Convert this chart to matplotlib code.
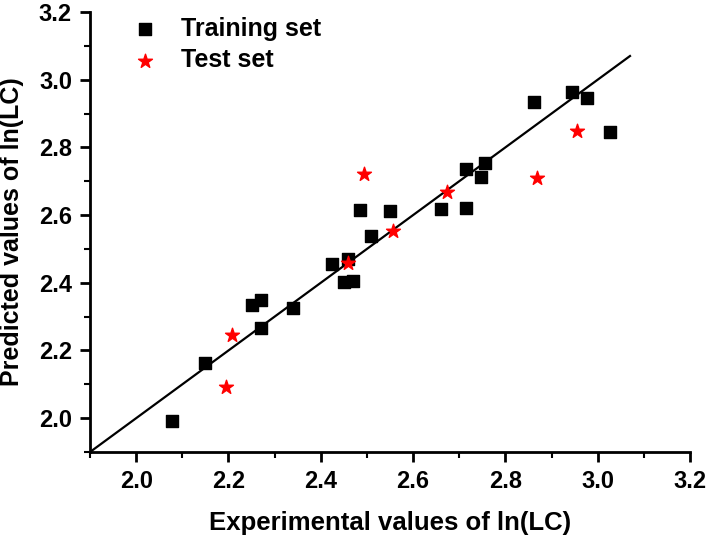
import numpy as np
import matplotlib.pyplot as plt
from matplotlib.ticker import MultipleLocator

# Training set (experimental, predicted)
train_exp = [2.078, 2.150, 2.250, 2.271, 2.271, 2.340, 2.424, 2.450, 2.459, 2.469,
             2.485, 2.509, 2.549, 2.660, 2.715, 2.715, 2.748, 2.755, 2.862, 2.945,
             2.976, 3.026]
train_pred = [1.992, 2.163, 2.335, 2.348, 2.265, 2.324, 2.455, 2.401, 2.469, 2.406,
              2.614, 2.537, 2.611, 2.617, 2.620, 2.735, 2.712, 2.754, 2.934, 2.963,
              2.946, 2.845]

# Test set
test_exp = [2.195, 2.207, 2.459, 2.493, 2.556, 2.673, 2.868, 2.956]
test_pred = [2.091, 2.246, 2.457, 2.722, 2.553, 2.667, 2.711, 2.847]

# y = x reference line
line_x = [1.9, 3.07]

plt.rcParams['font.family'] = ['Liberation Sans', 'DejaVu Sans']
plt.rcParams['font.weight'] = 'bold'
plt.rcParams['axes.labelweight'] = 'bold'

fig = plt.figure(figsize=(7.1, 5.41), dpi=100)
ax = fig.add_axes([0.1268, 0.1645, 0.845, 0.8133])

ax.plot(line_x, line_x, color='black', lw=1.6, zorder=1)
ax.scatter(train_exp, train_pred, marker='s', s=70, color='black', label='Training set', zorder=3)
ax.scatter(test_exp, test_pred, marker='*', s=110, color='red', label='Test set', zorder=3)

ax.set_xlim(1.9, 3.2)
ax.set_ylim(1.9, 3.2)
ax.xaxis.set_minor_locator(MultipleLocator(0.1))
ax.yaxis.set_minor_locator(MultipleLocator(0.1))
ticks = np.arange(2.0, 3.21, 0.2)
ax.set_xticks(ticks)
ax.set_yticks(ticks)
ax.set_xticklabels([f"{v:.1f}" for v in ticks], fontsize=17, fontweight='bold')
ax.set_yticklabels([f"{v:.1f}" for v in ticks], fontsize=17, fontweight='bold')

ax.spines['top'].set_visible(False)
ax.spines['right'].set_visible(False)
ax.spines['left'].set_linewidth(2)
ax.spines['bottom'].set_linewidth(2)
ax.tick_params(which='major', direction='out', length=7, width=2, pad=6)
ax.tick_params(which='minor', direction='out', length=4, width=1.5)

ax.set_xlabel('Experimental values of ln(LC)', fontsize=18.5, fontweight='bold', labelpad=13)
ax.set_ylabel('Predicted values of ln(LC)', fontsize=18, fontweight='bold', labelpad=11)

ax.legend(loc='upper left', bbox_to_anchor=(0.012, 1.04), frameon=False,
          prop={'size': 18, 'weight': 'bold'},
          handletextpad=0.45, labelspacing=0.3, scatterpoints=1)

fig.savefig('out.png', dpi=100)
